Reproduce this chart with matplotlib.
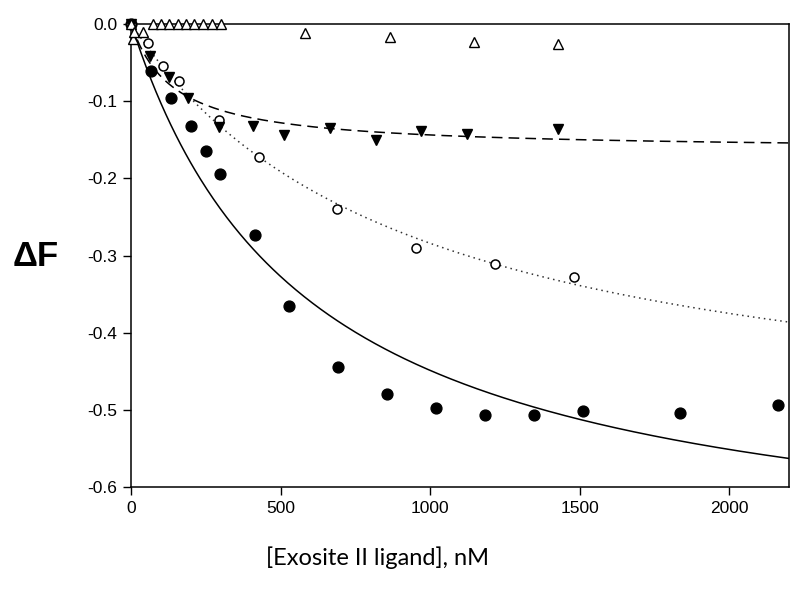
import numpy as np
import matplotlib
matplotlib.use("Agg")
import matplotlib.pyplot as plt

# ==============================
# DATA
# ==============================
# filled circles
x_fc = [0, 67, 133, 200, 250, 298, 413, 529, 693, 857, 1020, 1183, 1347, 1510, 1837, 2164]
y_fc = [0.0, -0.061, -0.096, -0.132, -0.164, -0.195, -0.274, -0.366, -0.445, -0.480,
        -0.497, -0.507, -0.506, -0.502, -0.504, -0.493]

# open circles
x_oc = [0, 56, 106, 159, 294, 426, 689, 952, 1217, 1481]
y_oc = [0.0, -0.025, -0.055, -0.074, -0.125, -0.172, -0.240, -0.290, -0.311, -0.328]

# filled down triangles
x_dt = [0, 64, 128, 189, 294, 406, 511, 664, 820, 970, 1122, 1428]
y_dt = [0.0, -0.041, -0.069, -0.096, -0.134, -0.132, -0.144, -0.135, -0.150, -0.139, -0.142, -0.136]

# open up triangles
x_ut = [0, 5, 10, 40, 72, 100, 128, 156, 183, 211, 239, 270, 300, 583, 867, 1148, 1428]
y_ut = [0.0, -0.020, -0.010, -0.010, 0.0, 0.0, 0.0, 0.0, 0.0, 0.0, 0.0, 0.0, 0.0,
        -0.012, -0.017, -0.024, -0.026]

# hyperbolic fit parameters (Fmax, Kd in nM)
FIT_SOLID = (0.714, 591)
FIT_DASHED = (0.164, 140)
FIT_DOTTED = (0.551, 939)

x_ticks = [0, 500, 1000, 1500, 2000]
y_ticks = [0.0, -0.1, -0.2, -0.3, -0.4, -0.5, -0.6]


def binding(x, fmax, kd):
    return -fmax * x / (kd + x)


def main():
    fig = plt.figure(figsize=(8, 5.97), dpi=100)
    ax = fig.add_axes([0.164, 0.184, 0.822, 0.776])

    xs = np.linspace(0, 2200, 400)
    ax.plot(xs, binding(xs, *FIT_SOLID), color="black", lw=1.1, zorder=2)
    ax.plot(xs, binding(xs, *FIT_DASHED), color="black", lw=1.1,
            dashes=(7, 4), zorder=2)
    ax.plot(xs, binding(xs, *FIT_DOTTED), color="#333333", lw=1.1,
            dashes=(1, 2.6), zorder=2)

    ax.plot(x_fc, y_fc, "o", color="black", ms=7.8, clip_on=False, zorder=3)
    ax.plot(x_oc, y_oc, "o", mfc="white", mec="black", mew=1.1, ms=6.5,
            clip_on=False, zorder=3)
    ax.plot(x_dt, y_dt, "v", color="black", ms=7.8, clip_on=False, zorder=3)
    ax.plot(x_ut, y_ut, "^", mfc="white", mec="black", mew=1.0, ms=7,
            clip_on=False, zorder=4)

    ax.set_xlim(0, 2200)
    ax.set_ylim(-0.6, 0.0)
    ax.set_xticks(x_ticks)
    ax.set_yticks(y_ticks)
    ax.set_yticklabels([f"{v:.1f}" for v in y_ticks])
    ax.tick_params(direction="out", length=6, width=1.0, top=False, right=False,
                   labelsize=12.5, pad=4)
    for lab in ax.get_xticklabels() + ax.get_yticklabels():
        lab.set_fontfamily("Liberation Sans")
    for sp in ax.spines.values():
        sp.set_linewidth(1.1)

    fig.text(377 / 800, 1 - 558 / 597, "[Exosite II ligand], nM", fontsize=17,
             family="Lato", ha="center", va="center")
    fig.text(36 / 800, 1 - 256 / 597, "ΔF", fontsize=25, fontweight="bold",
             family="Liberation Sans", ha="center", va="center")

    fig.savefig("out.png", dpi=100)
    plt.close(fig)


if __name__ == "__main__":
    main()
